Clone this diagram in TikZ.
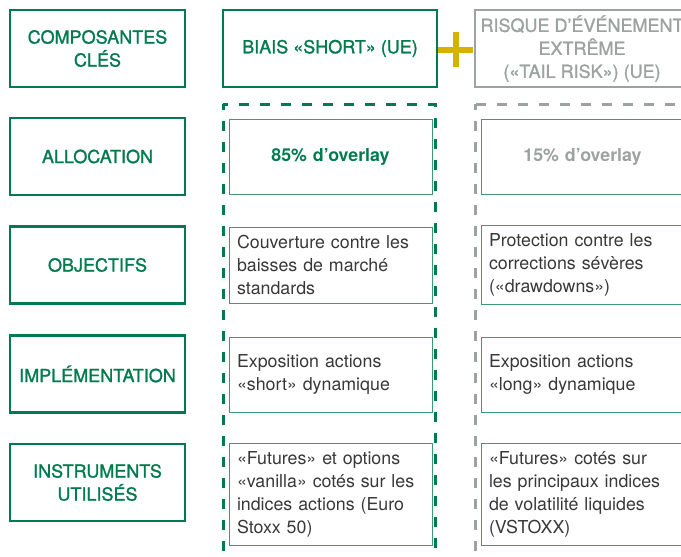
\documentclass[tikz,border=0pt]{standalone}
\usepackage{fontspec}
\setmainfont{TeX Gyre Heros}
\newfontfamily\medfont[FakeBold=1.3]{TeX Gyre Heros}
\usetikzlibrary{shapes}

\definecolor{vert}{HTML}{007A4E}
\definecolor{vertclair}{HTML}{3E9A72}
\definecolor{gris}{HTML}{9BA2A0}
\definecolor{texte}{HTML}{383838}
\definecolor{jaune}{HTML}{D4B300}

\begin{document}
\begin{tikzpicture}[x=1pt, y=-1pt, font=\fontsize{17.8}{23}\selectfont]

\tikzstyle{label} = [draw=vert, text=vert, line width=2.6pt, shape=rectangle, minimum width=175pt, minimum height=77pt, align=center, inner sep=2pt, font=\fontsize{18}{23}\medfont]
\tikzstyle{header} = [label, minimum width=214pt]
\tikzstyle{cell} = [draw=vertclair, text=texte, line width=0.9pt, shape=rectangle, text width=187pt, inner sep=8pt, minimum height=75pt, align=left]
\tikzstyle{group} = [line width=3pt, dash pattern=on 10pt off 11pt, dash phase=4pt]

\useasboundingbox (0,0) rectangle (681,557);
\clip (0,0) rectangle (681,557);

% colonne des libelles
\node [label] at (97.5,48.5) (composantes) {COMPOSANTES\\CLÉS};
\node [label] at (97.5,156.5) (allocation) {ALLOCATION};
\node [label] at (97.5,265) (objectifs) {OBJECTIFS};
\node [label] at (97.5,374) (implementation) {IMPLÉMENTATION};
\node [label] at (97.5,482.5) (instruments) {INSTRUMENTS\\UTILISÉS};

% en-tetes
\node [header] at (330,48.5) (biais) {BIAIS «SHORT» (UE)};
\node [header, draw=gris, text=gris] at (582,48.5) (tailrisk) {RISQUE D’ÉVÉNEMENT\\EXTRÊME\\(«TAIL RISK») (UE)};

% signe plus
\begin{scope}[line width=6pt, jaune]
     \draw (438,49.5) -- (473,49.5);
     \draw (455.5,32) -- (455.5,67);
\end{scope}

% cadres en tirets
\draw [group, vert] (223,104) rectangle (435,575);
\draw [group, gris] (475,104) rectangle (690,575);

% colonne biais short
\node [cell, text=vert, align=center] at (330.5,156.5) (overlayS) {\bfseries 85\% d’overlay};
\node [cell, minimum height=76pt] at (330.5,265) (objS) {Couverture contre les\\baisses de marché\\standards};
\node [cell] at (330.5,374.5) (implS) {Exposition actions\\«short» dynamique};
\node [cell, minimum height=101pt] at (330.5,494.5) (instrS) {«Futures» et options\\«vanilla» cotés sur les\\indices actions (Euro\\Stoxx 50)};

% colonne tail risk
\begin{scope}[every node/.append style={draw=gris}]
\node [cell, text=gris, align=center] at (582.5,156.5) (overlayT) {\bfseries 15\% d’overlay};
\node [cell, minimum height=76pt] at (582.5,265) (objT) {Protection contre les\\corrections sévères\\(«drawdowns»)};
\node [cell] at (582.5,374.5) (implT) {Exposition actions\\«long» dynamique};
\node [cell, minimum height=101pt] at (582.5,494.5) (instrT) {«Futures» cotés sur\\les principaux indices\\de volatilité liquides\\(VSTOXX)};
\end{scope}
\end{tikzpicture}
\end{document}
